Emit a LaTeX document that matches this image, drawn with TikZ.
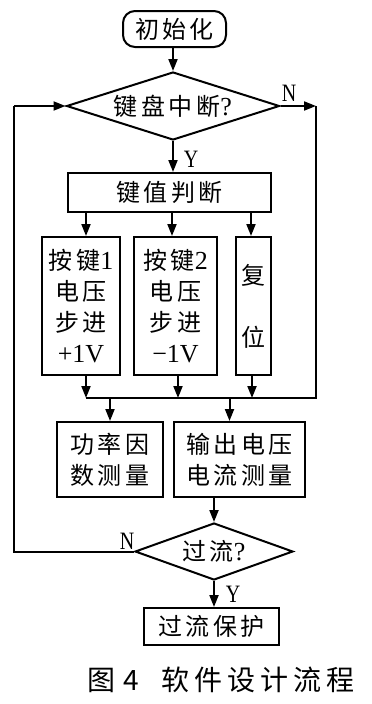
\documentclass[tikz,border=0pt]{standalone}
\usepackage{fontspec}
\setmainfont{Liberation Serif}
\newfontfamily\cjk{Noto Sans CJK SC}
\newfontfamily\nar[FakeStretch=0.8]{Liberation Serif}
\usetikzlibrary{shapes.geometric,arrows.meta}
\newcommand\ls{\hspace{3.5pt}}
\newcommand\dg[1]{{\rmfamily\fontsize{26}{31}\selectfont #1}}
\begin{document}
\begin{tikzpicture}[x=1pt,y=-1pt, line width=2pt,
  box/.style={draw, inner sep=0pt, align=center, font=\cjk\fontsize{24}{31}\selectfont},
  dia/.style={draw, diamond, inner sep=0pt, font=\cjk\fontsize{24}{31}\selectfont},
  arr/.style={-{Triangle[length=12pt,width=9pt]}},
  lab/.style={font=\nar\fontsize{25}{25}\selectfont, inner sep=0pt}]
\useasboundingbox (0,0) rectangle (372,704);
% nodes
\node[box, rounded corners=12pt, minimum width=103pt, minimum height=36pt] (init) at (174.5,29) {初\ls 始\ls 化};
\node[dia, minimum width=213pt, minimum height=68pt, aspect=3.13] (d1) at (173,106) {键\ls 盘\ls 中\ls 断\dg{?}};
\node[box, minimum width=203pt, minimum height=39pt] (kz) at (169.5,192.5) {键\ls 值\ls 判\ls 断};
\node[box, minimum width=78pt, minimum height=138pt] (b1) at (81,306) {按\ls 键\dg{1}\\电\ls 压\\步\ls 进\\\dg{+1V}};
\node[box, minimum width=83pt, minimum height=138pt] (b2) at (175.5,306) {按\ls 键\dg{2}\\电\ls 压\\步\ls 进\\\dg{\textminus 1V}};
\node[box, minimum width=35pt, minimum height=138pt] (b3) at (253.5,306) {复\\[31pt]位};
\node[box, minimum width=106pt, minimum height=75pt] (m1) at (110,459.5) {功\ls 率\ls 因\\数\ls 测\ls 量};
\node[box, minimum width=131pt, minimum height=75pt] (m2) at (239.5,459.5) {输\ls 出\ls 电\ls 压\\电\ls 流\ls 测\ls 量};
\node[dia, minimum width=158pt, minimum height=57pt, aspect=2.77] (d2) at (214,551.5) {过\ls 流\dg{?}};
\node[box, minimum width=135pt, minimum height=37pt] (pr) at (211.5,626.5) {过\ls 流\ls 保\ls 护};
\node[anchor=west, inner sep=0pt, font=\cjk\fontsize{28}{28}\selectfont] (cap) at (86,680) {图\hspace{9pt}4\hspace{22pt}软\hspace{5pt}件\hspace{5pt}设\hspace{5pt}计\hspace{5pt}流\hspace{5pt}程};
% labels
\node[lab] (n1) at (289,93) {N};
\node[lab] (y1) at (191,159) {Y};
\node[lab] (n2) at (127,541) {N};
\node[lab] (y2) at (233,594) {Y};
% coordinates
\coordinate (rc) at (316,106);
\coordinate (jr) at (316,398);
\coordinate (jl) at (86,398);
\coordinate (lb) at (14,551.5);
\coordinate (lt) at (14,106);
% connectors
\draw[arr] (init.south -| d1.north) -- (d1.north);
\draw[arr] (d1.south) -- (d1.south |- kz.north);
\draw[arr] ([xshift=5pt]b1.north |- kz.south) -- ([xshift=5pt]b1.north);
\draw[arr] ([xshift=-3.5pt]b2.north |- kz.south) -- ([xshift=-3.5pt]b2.north);
\draw[arr] ([xshift=-2.5pt]b3.north |- kz.south) -- ([xshift=-2.5pt]b3.north);
\draw[arr] (d1.east) -- (rc);
\draw (rc) -- (jr) -- (jl);
\draw[arr] ([xshift=5pt]b1.south) -- ([xshift=5pt]b1.south |- jl);
\draw[arr] ([xshift=2.5pt]b2.south) -- ([xshift=2.5pt]b2.south |- jl);
\draw[arr] ([xshift=-1.5pt]b3.south) -- ([xshift=-1.5pt]b3.south |- jl);
\draw[arr] (m1.north |- jl) -- (m1.north);
\draw[arr] ([xshift=-10pt]m2.north |- jl) -- ([xshift=-10pt]m2.north);
\draw[arr] (d2.north |- m2.south) -- (d2.north);
\draw[arr] (d2.south) -- (d2.south |- pr.north);
\draw (d2.west) -- (lb) -- (lt);
\draw[arr] (lt) -- (d1.west);
\end{tikzpicture}
\end{document}
